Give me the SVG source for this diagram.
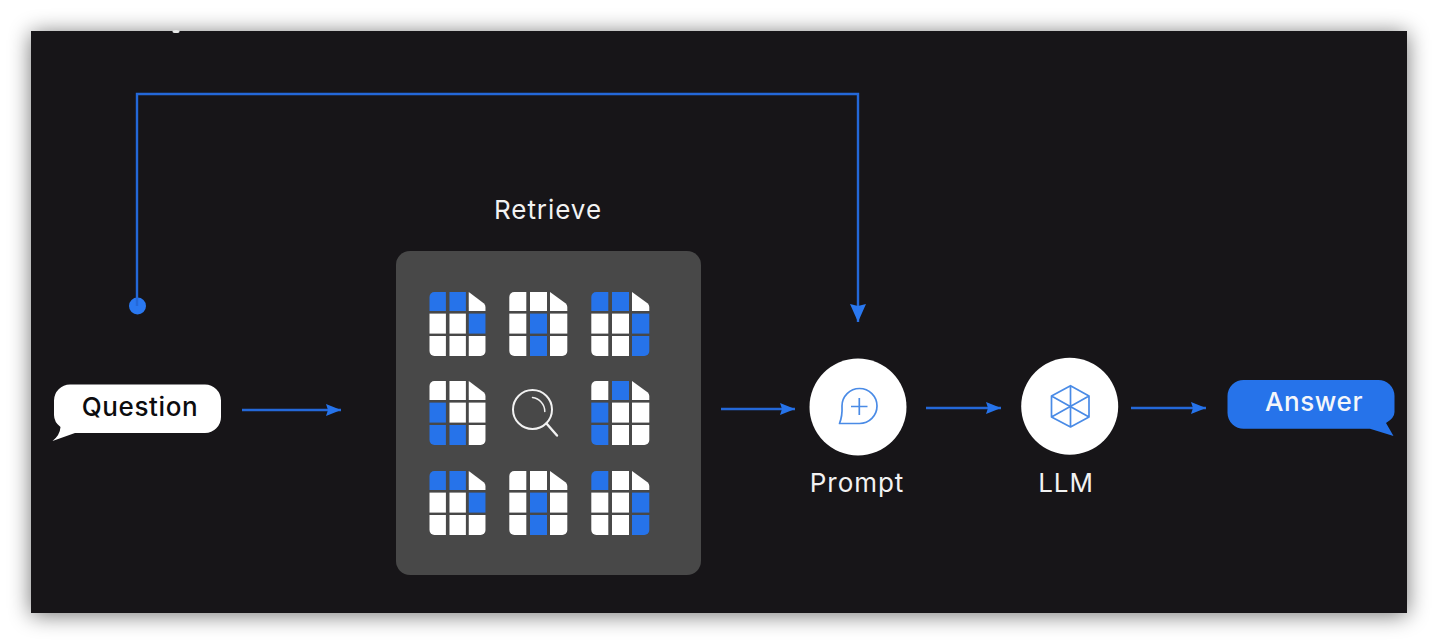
<svg xmlns="http://www.w3.org/2000/svg" width="1440" height="644" viewBox="0 0 1440 644">
<style>
text{font-family:Inter,"Noto Sans","Liberation Sans",sans-serif;letter-spacing:.6px}
.lbl{fill:#f2f2f2;font-size:26px;text-anchor:middle;letter-spacing:.95px}
.doc{fill:#fff}
.b{fill:#2673ea}
.conn{fill:none;stroke:#2468d8;stroke-width:2.4}
.ico{fill:none;stroke:#4a8be6;stroke-width:1.7;stroke-linejoin:round}
</style>
<defs>
<filter id="sh" x="-5%" y="-10%" width="110%" height="120%"><feGaussianBlur stdDeviation="11"/></filter>
<marker id="ah" markerUnits="userSpaceOnUse" markerWidth="16" markerHeight="14" refX="15" refY="6" orient="auto"><path d="M0 0L15 6L0 12L2 6z" fill="#2673ea"/></marker>
<marker id="ahv" markerUnits="userSpaceOnUse" markerWidth="19" markerHeight="18" refX="18" refY="8" orient="auto"><path d="M0 0L18 8L0 16L2 8z" fill="#2a78f0"/></marker>
<path id="a" d="M0 5a5 5 0 0 1 5-5H17V19H0z"/>
<path id="c2" d="M20.700 0H37.700V19H20.700z"/>
<path id="c" d="M40.700 0L56.500 11.500Q58 13 58 15V19H40.700z"/>
<path id="d" d="M0 21.600H17V41.600H0z"/>
<path id="e" d="M20.700 21.600H37.700V41.600H20.700z"/>
<path id="f" d="M40.700 21.600H58V41.600H40.700z"/>
<path id="g" d="M0 44H17V64H5a5 5 0 0 1-5-5z"/>
<path id="h" d="M20.700 44H37.700V64H20.700z"/>
<path id="i" d="M40.700 44H58V59a5 5 0 0 1-5 5H40.700z"/>
<g id="d1"><use href="#a" class="b"/><use href="#c2" class="b"/><use href="#c"/><use href="#d"/><use href="#e"/><use href="#f" class="b"/><use href="#g"/><use href="#h"/><use href="#i"/></g>
<g id="d2"><use href="#a"/><use href="#c2"/><use href="#c"/><use href="#d"/><use href="#e" class="b"/><use href="#f"/><use href="#g"/><use href="#h" class="b"/><use href="#i"/></g>
</defs>
<rect x="31" y="33" width="1376" height="582" fill="#000" opacity=".55" filter="url(#sh)"/>
<rect id="panel" x="31" y="31" width="1376" height="582" fill="#171518"/>
<ellipse id="speck" cx="176" cy="31.500" rx="3.500" ry="1.500" fill="#e8e8e8"/>
<g id="connectors">
<circle cx="137.500" cy="306" r="8.500" fill="#2a78f0"/>
<path class="conn" d="M137 306V94H858V322" marker-end="url(#ahv)"/>
<path class="conn" d="M242 410H341" marker-end="url(#ah)"/>
<path class="conn" d="M721 409H795" marker-end="url(#ah)"/>
<path class="conn" d="M926 408H1001" marker-end="url(#ah)"/>
<path class="conn" d="M1131 408H1206" marker-end="url(#ah)"/>
</g>
<g id="question">
<path fill="#fff" d="M70 384.500H205a16 16 0 0 1 16 16V417a16 16 0 0 1-16 16H75L52.500 441Q60 435 60.500 427Q54 422 54 415V400.500a16 16 0 0 1 16-16z"/>
<text x="140" y="416" font-size="26" font-weight="500" text-anchor="middle" fill="#0c0c0e">Question</text>
</g>
<g id="retrieve">
<text class="lbl" x="548" y="219">Retrieve</text>
<rect x="396" y="251" width="305" height="324" rx="14" fill="#484848"/>
<g class="doc" transform="translate(429.500 292) scale(.965 1)"><use href="#d1"/></g>
<g class="doc" transform="translate(509.300 292)"><use href="#d2"/></g>
<g class="doc" transform="translate(591.300 292)"><use href="#a" class="b"/><use href="#c2" class="b"/><use href="#c"/><use href="#d"/><use href="#e"/><use href="#f" class="b"/><use href="#g"/><use href="#h"/><use href="#i" class="b"/></g>
<g class="doc" transform="translate(429.500 381) scale(.965 1)"><use href="#a"/><use href="#c2"/><use href="#c"/><use href="#d" class="b"/><use href="#e"/><use href="#f"/><use href="#g" class="b"/><use href="#h" class="b"/><use href="#i"/></g>
<g class="doc" transform="translate(591.300 381)"><use href="#a"/><use href="#c2" class="b"/><use href="#c"/><use href="#d" class="b"/><use href="#e"/><use href="#f"/><use href="#g" class="b"/><use href="#h"/><use href="#i"/></g>
<g class="doc" transform="translate(429.500 471) scale(.965 1)"><use href="#d1"/></g>
<g class="doc" transform="translate(509.300 471)"><use href="#d2"/></g>
<g class="doc" transform="translate(591.300 471)"><use href="#a" class="b"/><use href="#c2"/><use href="#c"/><use href="#d"/><use href="#e"/><use href="#f" class="b"/><use href="#g"/><use href="#h"/><use href="#i" class="b"/></g>
<g fill="none" stroke="#f2f2f2" stroke-width="2" stroke-linecap="round">
<circle cx="532.500" cy="409.500" r="19.500"/>
<path d="M546.500 423.500L557 435.500" stroke-width="2.400"/>
<path d="M532.500 397.500A14 14 0 0 1 544.800 411.500" stroke-width="1.500"/>
</g>
</g>
<g id="prompt">
<circle cx="858" cy="407" r="48.500" fill="#fff"/>
<path class="ico" d="M842 406a17.500 17.500 0 1 1 17.500 17.500L839.500 423.500Q842.500 416 842 406z"/>
<path class="ico" d="M851 406.500H867.500M859.300 398V415"/>
<text class="lbl" x="857" y="492">Prompt</text>
</g>
<g id="llm">
<circle cx="1069.700" cy="406.300" r="48.500" fill="#fff"/>
<path class="ico" d="M1070.500 385.700L1089 396V417L1070.500 427L1051.500 417V396zM1070.500 385.700V427M1051.500 396L1089 417M1089 396L1051.500 417"/>
<text class="lbl" x="1066" y="492">LLM</text>
</g>
<g id="answer">
<path class="b" d="M1244 380H1378a16 16 0 0 1 16.500 16V412Q1394.500 418 1386 423L1393.500 436L1370 428.700H1244a16 16 0 0 1-16.500-16V396a16 16 0 0 1 16.500-16z"/>
<text x="1314" y="411" font-size="26" font-weight="500" text-anchor="middle" fill="#f4f6fa">Answer</text>
</g>
</svg>
